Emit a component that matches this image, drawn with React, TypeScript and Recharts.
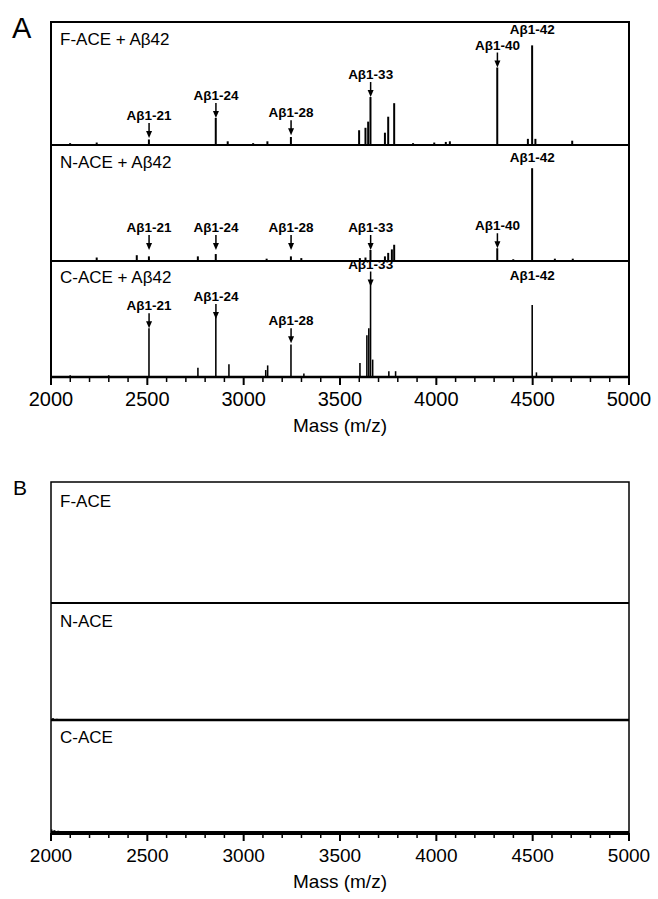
import React from 'react';
import { BarChart, Bar, XAxis, YAxis, ReferenceDot } from 'recharts';

const FONT = "'Liberation Sans', Arial, Helvetica, sans-serif";

// Axis ticks (m/z)
const MASS_TICKS = [2000, 2500, 3000, 3500, 4000, 4500, 5000];
const MINOR_TICKS = [
  2000, 2100, 2200, 2300, 2400, 2500, 2600, 2700, 2800, 2900,
  3000, 3100, 3200, 3300, 3400, 3500, 3600, 3700, 3800, 3900,
  4000, 4100, 4200, 4300, 4400, 4500, 4600, 4700, 4800, 4900, 5000,
];

// ---- Panel A: ACE + Aβ42 (relative intensity, % of sub-panel height) ----
const fAceAbMass = [2100, 2238, 2509, 2856, 2918, 3050, 3124, 3246, 3600, 3633, 3647, 3659, 3734, 3751, 3782, 3880, 3990, 4050, 4071, 4317, 4476, 4498, 4515, 4706];
const fAceAbInt = [1.5, 2, 4.5, 22, 3, 1.5, 3, 6.5, 12, 14, 19, 39, 10, 23, 34, 1.5, 2, 2.5, 3, 63, 5, 81, 5, 3.5];

const nAceAbMass = [2238, 2446, 2509, 2763, 2856, 3120, 3246, 3300, 3604, 3633, 3659, 3734, 3751, 3770, 3782, 4317, 4400, 4498, 4616, 4709];
const nAceAbInt = [3, 5, 4, 4, 6, 2, 4, 2.5, 2.5, 3, 9.5, 4, 7, 10, 14, 11, 1.5, 80, 2, 2];

const cAceAbMass = [2100, 2300, 2509, 2763, 2856, 2924, 3115, 3125, 3246, 3313, 3604, 3640, 3650, 3659, 3670, 3754, 3789, 4498, 4520];
const cAceAbInt = [1.5, 1.5, 42, 8, 52, 11, 6, 10, 28, 3, 12, 36, 42, 81, 15, 5, 5, 62, 4];

// Peak annotations (label, m/z, intensity of arrow tip / label anchor, arrow?)
const fAceAbTags = ['Aβ1-21', 'Aβ1-24', 'Aβ1-28', 'Aβ1-33', 'Aβ1-40', 'Aβ1-42'];
const fAceAbTagMass = [2509, 2856, 3246, 3659, 4317, 4498];
const fAceAbTagAt = [5.7, 22, 8, 39, 63, 90];
const fAceAbTagArrow = [true, true, true, true, true, false];

const nAceAbTags = ['Aβ1-21', 'Aβ1-24', 'Aβ1-28', 'Aβ1-33', 'Aβ1-40', 'Aβ1-42'];
const nAceAbTagMass = [2509, 2856, 3246, 3659, 4317, 4498];
const nAceAbTagAt = [9.5, 9.5, 9.5, 9.5, 11, 85];
const nAceAbTagArrow = [true, true, true, true, true, false];

const cAceAbTags = ['Aβ1-21', 'Aβ1-24', 'Aβ1-28', 'Aβ1-33', 'Aβ1-42'];
const cAceAbTagMass = [2509, 2856, 3246, 3659, 4498];
const cAceAbTagAt = [42, 50, 29, 78, 84];
const cAceAbTagArrow = [true, true, true, true, false];

// ---- Panel B: ACE alone ----
const fAceMass = [2500, 3300, 4300];
const fAceInt = [0.6, 0.6, 0.6];
const nAceMass = [2010, 2030];
const nAceInt = [1.5, 1];
const cAceMass = [2005, 2020, 2040, 2060];
const cAceInt = [3, 2.5, 2, 1.5];

const MassTick = (props: any) => {
  const { x, y, payload, fs } = props;
  const major = MASS_TICKS.includes(payload.value);
  return (
    <g>
      <line x1={x} x2={x} y1={y} y2={y + (major ? 8 : 5)} stroke="#000" strokeWidth={major ? 2 : 1.5} />
      {major && (
        <text x={x} y={y + 29} textAnchor="middle" fontSize={fs} fontFamily={FONT} fill="#000">
          {payload.value}
        </text>
      )}
    </g>
  );
};

const PeakTag = (props: any) => {
  const { cx, cy, text, arrow } = props;
  if (cx == null || cy == null) return <g />;
  return (
    <g>
      <text x={cx} y={arrow ? cy - 18 : cy} textAnchor="middle" fontSize={13.5} fontWeight="bold" fontFamily={FONT} fill="#000">
        {text}
      </text>
      {arrow && (
        <g>
          <line x1={cx} x2={cx} y1={cy - 15} y2={cy - 6} stroke="#000" strokeWidth={1.5} />
          <polygon points={`${cx - 3},${cy - 7} ${cx + 3},${cy - 7} ${cx},${cy}`} fill="#000" />
        </g>
      )}
    </g>
  );
};

type SpecProps = {
  top: number;
  plotH: number;
  mass: number[];
  inten: number[];
  tags?: string[];
  tagMass?: number[];
  tagAt?: number[];
  tagArrow?: boolean[];
  bottomAxis?: boolean;
  baseW: number;
  tickFont?: number;
};

const AXIS_H = 60;
const TITLE_BASE = 55;
const PAD = 14;

function Spectrum({ top, plotH, mass, inten, tags = [], tagMass = [], tagAt = [], tagArrow = [], bottomAxis = false, baseW, tickFont = 20 }: SpecProps) {
  const data = mass.map((m, i) => ({ mass: m, y: inten[i] }));
  const bottom = bottomAxis ? 0 : 3;
  const h = PAD + plotH + (bottomAxis ? AXIS_H : 0) + bottom;
  return (
    <div style={{ position: 'absolute', left: 0, top: top - PAD }}>
      <BarChart width={658} height={h} data={data} margin={{ top: PAD, right: 29, bottom, left: 51 }}>
        <XAxis
          type="number"
          dataKey="mass"
          domain={[2000, 5000]}
          allowDataOverflow
          ticks={bottomAxis ? MINOR_TICKS : []}
          interval={0}
          tickSize={0}
          tickMargin={0}
          tickLine={false}
          tick={bottomAxis ? (p: any) => <MassTick {...p} fs={tickFont} /> : false}
          axisLine={{ stroke: '#000', strokeWidth: baseW }}
          height={bottomAxis ? AXIS_H : 0}
          label={
            bottomAxis
              ? { value: 'Mass (m/z)', position: 'insideBottom', offset: AXIS_H - TITLE_BASE, fontSize: 19, fill: '#000', fontFamily: FONT }
              : undefined
          }
        />
        <YAxis hide domain={[0, 100]} allowDataOverflow />
        <Bar dataKey="y" fill="#000" barSize={2} isAnimationActive={false} />
        {tags.map((t, i) => (
          <ReferenceDot
            key={t + i}
            x={tagMass[i]}
            y={tagAt[i]}
            ifOverflow="visible"
            shape={(p: any) => <PeakTag {...p} text={t} arrow={tagArrow[i]} />}
          />
        ))}
      </BarChart>
    </div>
  );
}

export default function App() {
  return (
    <div style={{ position: 'absolute', left: 0, top: 0, width: 658, height: 899, background: '#fff', fontFamily: FONT }}>
      {/* Panel A */}
      <Spectrum top={22} plotH={123} mass={fAceAbMass} inten={fAceAbInt} tags={fAceAbTags} tagMass={fAceAbTagMass} tagAt={fAceAbTagAt} tagArrow={fAceAbTagArrow} baseW={2} />
      <Spectrum top={145} plotH={116} mass={nAceAbMass} inten={nAceAbInt} tags={nAceAbTags} tagMass={nAceAbTagMass} tagAt={nAceAbTagAt} tagArrow={nAceAbTagArrow} baseW={2} />
      <Spectrum top={261} plotH={116} mass={cAceAbMass} inten={cAceAbInt} tags={cAceAbTags} tagMass={cAceAbTagMass} tagAt={cAceAbTagAt} tagArrow={cAceAbTagArrow} baseW={2.5} bottomAxis tickFont={20} />
      {/* Panel B */}
      <Spectrum top={482} plotH={121} mass={fAceMass} inten={fAceInt} baseW={2} />
      <Spectrum top={603} plotH={117} mass={nAceMass} inten={nAceInt} baseW={2.5} />
      <Spectrum top={720} plotH={113} mass={cAceMass} inten={cAceInt} baseW={4} bottomAxis tickFont={19} />

      <svg width={658} height={899} style={{ position: 'absolute', left: 0, top: 0, pointerEvents: 'none' }}>
        <rect x={51} y={22} width={578} height={355} fill="none" stroke="#000" strokeWidth={2} />
        <line x1={51} x2={629} y1={145} y2={145} stroke="#000" strokeWidth={2} />
        <line x1={51} x2={629} y1={261} y2={261} stroke="#000" strokeWidth={2} />
        <rect x={51} y={482} width={578} height={351} fill="none" stroke="#000" strokeWidth={1.5} />
        <line x1={51} x2={629} y1={603} y2={603} stroke="#000" strokeWidth={2} />
        <line x1={51} x2={629} y1={720} y2={720} stroke="#000" strokeWidth={2.5} />
        <g fontFamily={FONT} fill="#000">
          <text x={12} y={38} fontSize={29}>A</text>
          <text x={13} y={495} fontSize={21}>B</text>
          <text x={60} y={45} fontSize={17}>F-ACE + Aβ42</text>
          <text x={60} y={168} fontSize={17}>N-ACE + Aβ42</text>
          <text x={60} y={283} fontSize={17}>C-ACE + Aβ42</text>
          <text x={60} y={507} fontSize={17}>F-ACE</text>
          <text x={60} y={627} fontSize={17}>N-ACE</text>
          <text x={60} y={743} fontSize={17}>C-ACE</text>
        </g>
      </svg>
    </div>
  );
}
